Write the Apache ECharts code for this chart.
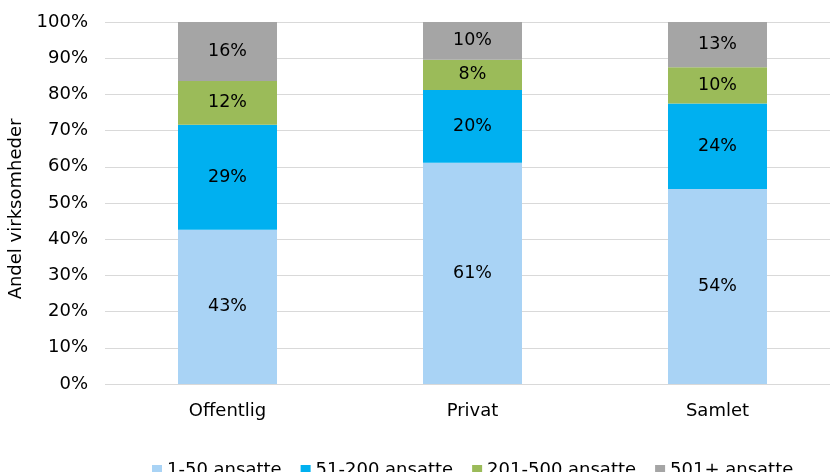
<!DOCTYPE html>
<html>
<head>
<meta charset="utf-8">
<script src="https://cdn.jsdelivr.net/npm/echarts@6/dist/echarts.min.js"></script>
<style>
  html, body { margin: 0; padding: 0; background: #fff; }
  #chart { width: 830px; height: 472px; }
</style>
</head>
<body>
<div id="chart"></div>
<script>
// sektorer
var categories = ['Offentlig', 'Privat', 'Samlet'];
var seriesNames = ['1-50 ansatte', '51-200 ansatte', '201-500 ansatte', '501+ ansatte'];
// andele i procent (aflæst)
var small = [42.6, 61.1, 53.9];
var medium = [29.0, 20.1, 23.6];
var large = [12.1, 8.4, 10.0];
var xlarge = [16.3, 10.4, 12.5];
var yTicks = [0, 10, 20, 30, 40, 50, 60, 70, 80, 90, 100];

var colors = ['#a9d3f5', '#00b0f0', '#9bbb59', '#a5a5a5'];
var values = [small, medium, large, xlarge];

var chart = echarts.init(document.getElementById('chart'));
var font = "'DejaVu Sans', Verdana, sans-serif";
var fs = 17.5;

var series = values.map(function (v, i) {
  return {
    name: seriesNames[i],
    type: 'bar',
    stack: 'total',
    barWidth: 99,
    data: v,
    itemStyle: { color: colors[i] },
    label: {
      show: true,
      position: 'inside',
      color: '#000',
      fontFamily: font,
      fontSize: fs,
      formatter: function (p) { return Math.round(p.value) + '%'; }
    }
  };
});

var option = {
  animation: false,
  grid: { left: 105, top: 22, width: 735, height: 362, outerBoundsMode: 'none' },
  legend: {
    top: 456,
    left: 147,
    itemWidth: 10,
    itemHeight: 10,
    itemGap: 19,
    icon: 'rect',
    textStyle: { fontFamily: font, fontSize: 18, color: '#000' },
    data: seriesNames
  },
  xAxis: {
    type: 'category',
    data: categories,
    axisLine: { show: false },
    axisTick: { show: false },
    axisLabel: { fontFamily: font, fontSize: 18, color: '#000', margin: 18 }
  },
  yAxis: {
    type: 'value',
    min: yTicks[0],
    max: yTicks[yTicks.length - 1],
    interval: 10,
    name: 'Andel virksomheder',
    nameLocation: 'middle',
    nameGap: 79,
    nameTextStyle: { fontFamily: font, fontSize: 18, color: '#000', padding: [0, 12, 0, 0] },
    axisLabel: {
      fontFamily: font, fontSize: 18, color: '#000', margin: 17,
      formatter: '{value}%'
    },
    splitLine: { lineStyle: { color: '#d9d9d9', width: 1 } }
  },
  series: series
};

chart.setOption(option);
</script>
</body>
</html>
